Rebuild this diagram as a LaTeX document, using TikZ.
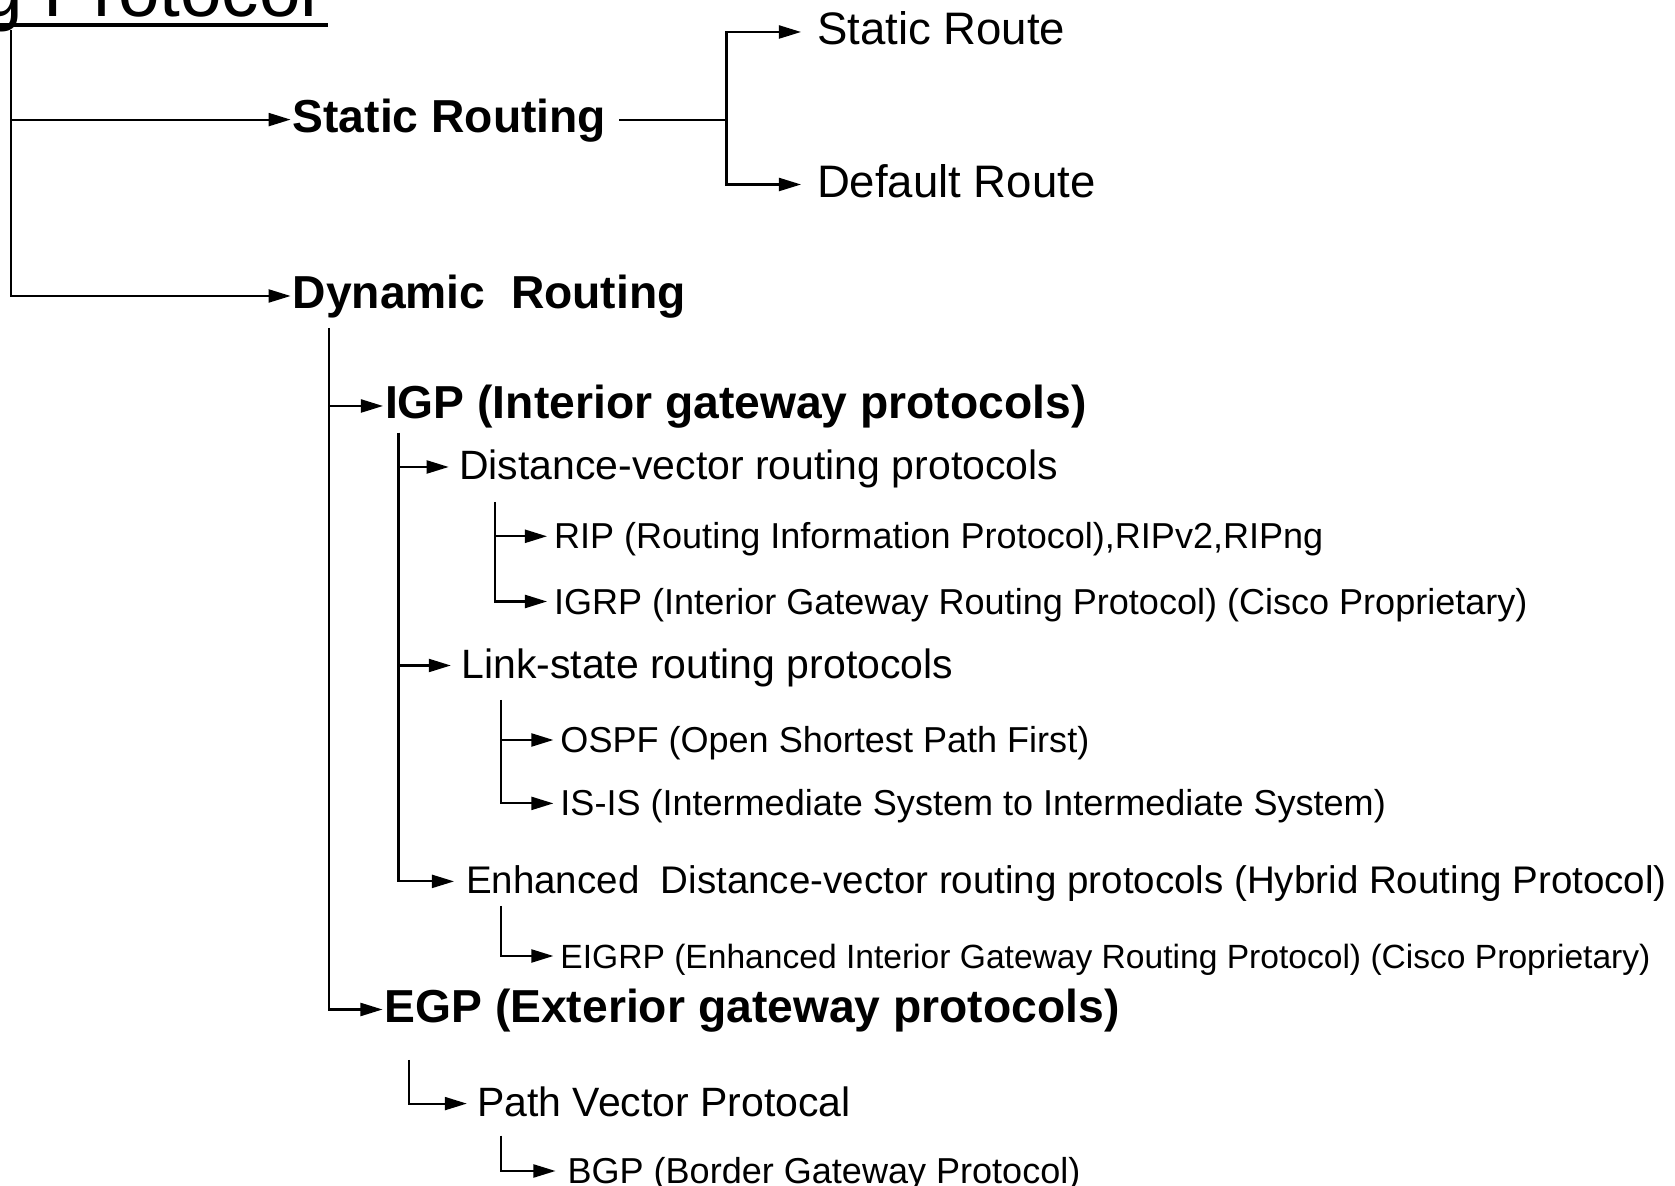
\documentclass[tikz,border=0pt]{standalone}
\usepackage{fontspec}
\setmainfont{Liberation Sans}
\usetikzlibrary{arrows.meta}
\tikzset{
  >={Triangle[length=2.2mm,width=1.3mm]},
  every node/.style={
    anchor=west,
    inner ysep=0pt,
    text height=0.716em,
    text depth=0pt
  },
  main/.style={font=\bfseries\fontsize{13.15}{15}\selectfont, inner xsep=0.1mm},
  route/.style={font=\fontsize{12.95}{15}\selectfont, inner xsep=1.5mm},
  family/.style={font=\fontsize{11.65}{14}\selectfont, inner xsep=0.95mm},
  leaf/.style={font=\fontsize{10.25}{12}\selectfont, inner xsep=0.6mm}
}

\begin{document}
\begin{tikzpicture}[x=0.01cm, y=-0.01cm, line width=0.6pt]
  \useasboundingbox (0,0) rectangle (1675,1186);

  \node[anchor=base west, inner sep=0pt, font=\fontsize{21.25}{24}\selectfont] (title) at (-20,17) {g Protocol};
  \draw[line width=0.9pt] (0,25) -- (328,25);
  \coordinate (trunk) at (11,30);

  \node[main] (static) at (290.6,119.6) {Static Routing};
  \node[main] (dynamic) at (290.6,296) {Dynamic\ \ Routing};
  \node[route] (sroute) at (801,32) {Static Route};
  \node[route] (droute) at (801,184.5) {Default Route};
  \coordinate (fork) at (726.5,119.6);

  \node[main] (igp) at (383,406) {IGP (Interior gateway protocols)};
  \node[family] (dv) at (448.7,467) {Distance-vector routing protocols};
  \node[leaf] (rip) at (547,536.3) {RIP (Routing Information Protocol),RIPv2,RIPng};
  \node[leaf] (igrp) at (547,601.5) {IGRP (Interior Gateway Routing Protocol) (Cisco Proprietary)};
  \node[family] (ls) at (450.8,665.5) {Link-state routing protocols};
  \node[leaf] (ospf) at (553.4,740) {OSPF (Open Shortest Path First)};
  \node[leaf] (isis) at (553.4,803.4) {IS-IS (Intermediate System to Intermediate System)};
  \node[family, font=\fontsize{10.95}{13}\selectfont, inner xsep=1.1mm] (enh) at (454,881.4)
    {Enhanced\ \ Distance-vector routing protocols (Hybrid Routing Protocol)};
  \node[leaf, font=\fontsize{9.55}{12}\selectfont] (eigrp) at (553.4,956)
    {EIGRP (Enhanced Interior Gateway Routing Protocol) (Cisco Proprietary)};
  \node[main] (egp) at (382.5,1009.5) {EGP (Exterior gateway protocols)};
  \node[family] (pv) at (466.8,1103.6) {Path Vector Protocal};
  \node[leaf, inner xsep=1.1mm] (bgp) at (555.5,1171) {BGP (Border Gateway Protocol)};

  \coordinate (dyntop) at (329,328);
  \coordinate (igptop) at (398.5,432.7);
  \coordinate (dvtop) at (494.6,502);
  \coordinate (lstop) at (501,700);
  \coordinate (enhtop) at (501,906);
  \coordinate (egptop) at (409,1060);
  \coordinate (pvtop) at (501,1135.6);

  \draw[->] (trunk) |- (dynamic.west);
  \draw[->] (trunk |- static.west) -- (static.west);
  \draw ([xshift=1.1mm]static.east) -- (fork);
  \draw[->] (fork) |- (sroute.west);
  \draw[->] (fork) |- (droute.west);

  \draw[->] (dyntop) |- (egp.west);
  \draw[->] (dyntop |- igp.west) -- (igp.west);
  \draw[->] (igptop) |- (enh.west);
  \draw[->] (igptop |- dv.west) -- (dv.west);
  \draw[->] (igptop |- ls.west) -- (ls.west);
  \draw[->] (dvtop) |- (igrp.west);
  \draw[->] (dvtop |- rip.west) -- (rip.west);
  \draw[->] (lstop) |- (isis.west);
  \draw[->] (lstop |- ospf.west) -- (ospf.west);
  \draw[->] (enhtop) |- (eigrp.west);
  \draw[->] (egptop) |- (pv.west);
  \draw[->] (pvtop) |- (bgp.west);
\end{tikzpicture}
\end{document}
